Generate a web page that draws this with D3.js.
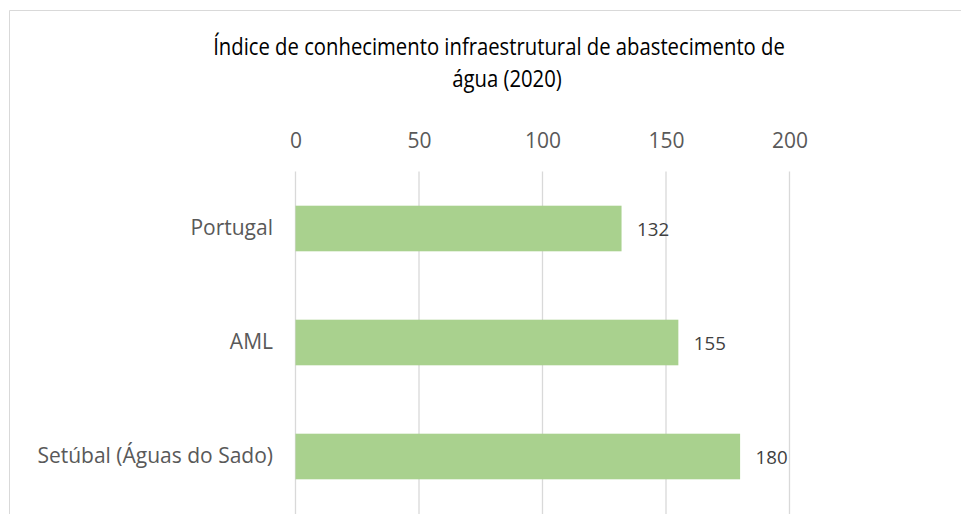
<!DOCTYPE html>
<html><head><meta charset="utf-8">
<script src="https://cdn.jsdelivr.net/npm/d3@7"></script>
<style>body{margin:0;background:#fff}svg{display:block}</style>
</head><body>
<svg id="c" width="961" height="514"></svg>
<script>
const categories = ["Portugal", "AML", "Setúbal (Águas do Sado)"];
const values = [132, 155, 180];
const tickValues = [0, 50, 100, 150, 200];
const titleLines = ["Índice de conhecimento infraestrutural de abastecimento de", "água (2020)"];

const svg = d3.select("#c");
const font = "'Open Sans', sans-serif";

// chart border
svg.append("path").attr("d", "M9.5,514V10.5H961")
  .attr("fill", "none").attr("stroke", "#d9d9d9").attr("stroke-width", 1);

const x = d3.scaleLinear().domain([0, 200]).range([295.5, 789.5]);
const y = d3.scaleBand().domain(categories).range([171.5, 513.5]).paddingInner(0.6).paddingOuter(0.3);

// gridlines
svg.append("g").selectAll("line").data(tickValues).join("line")
  .attr("x1", d => x(d)).attr("x2", d => x(d)).attr("y1", 171.5).attr("y2", 514)
  .attr("stroke", "#d9d9d9").attr("stroke-width", 1.3);

// top axis labels
const ax = svg.append("g").attr("transform", "translate(0,148)")
  .call(d3.axisTop(x).tickValues(tickValues).tickSize(0).tickPadding(0));
ax.select(".domain").remove();
ax.selectAll("text").attr("font-family", font).attr("font-size", 21).attr("fill", "#595959");

// bars
svg.append("g").selectAll("rect").data(values).join("rect")
  .attr("x", x(0)).attr("y", (d, i) => y(categories[i]))
  .attr("width", d => x(d) - x(0)).attr("height", y.bandwidth())
  .attr("fill", "#a9d18e");

// category labels
const ay = svg.append("g").attr("transform", "translate(273,0)")
  .call(d3.axisLeft(y).tickSize(0).tickPadding(0));
ay.select(".domain").remove();
ay.selectAll("text").attr("font-family", font).attr("font-size", 21).attr("fill", "#595959");

// data labels
svg.append("g").selectAll("text").data(values).join("text")
  .attr("x", d => x(d) + 15.5).attr("y", (d, i) => y(categories[i]) + y.bandwidth() / 2)
  .attr("dy", "0.42em").attr("font-family", font).attr("font-size", 18.7).attr("fill", "#404040")
  .text(d => d);

// title: glyphs compressed horizontally by one common factor (narrow original face)
const titleX = [499, 507];
const tg = svg.append("g").attr("class", "title");
const tt = tg.selectAll("text").data(titleLines).join("text")
  .attr("text-anchor", "middle").attr("font-family", font).attr("font-size", 24)
  .attr("fill", "#000").text(d => d);
const nodes = tt.nodes();
const k = 572 / nodes[0].getComputedTextLength();
nodes.forEach((n, i) => {
  n.setAttribute("transform", `translate(${titleX[i]},${54.5 + i * 32.5}) scale(${k.toFixed(4)},1)`);
});
</script>
</body></html>
